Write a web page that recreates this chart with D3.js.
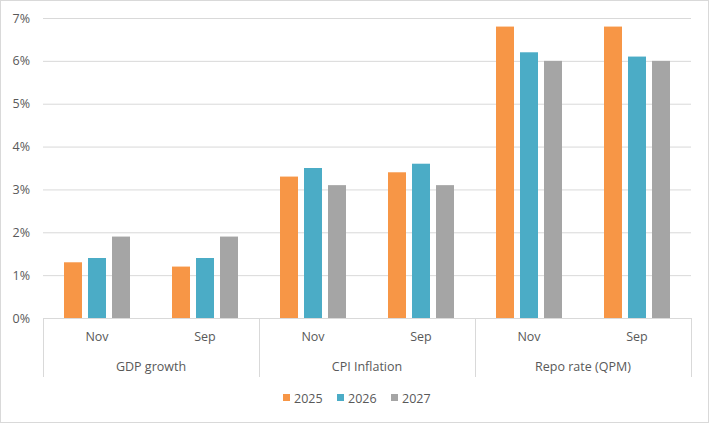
<!DOCTYPE html>
<html>
<head>
<meta charset="utf-8">
<script src="https://cdn.jsdelivr.net/npm/d3@7"></script>
<style>
  body { margin: 0; background: #fff; }
  text { font-family: "Open Sans", "Noto Sans", sans-serif; fill: #595959; }
</style>
</head>
<body>
<div id="chart"></div>
<script>
const groups = ["GDP growth", "CPI Inflation", "Repo rate (QPM)"];
const months = ["Nov", "Sep"];
const years = ["2025", "2026", "2027"];
const yTicks = [0, 1, 2, 3, 4, 5, 6, 7];

// values per year, order: GDP Nov, GDP Sep, CPI Nov, CPI Sep, Repo Nov, Repo Sep
const values2025 = [1.3, 1.2, 3.3, 3.4, 6.8, 6.8];
const values2026 = [1.4, 1.4, 3.5, 3.6, 6.2, 6.1];
const values2027 = [1.9, 1.9, 3.1, 3.1, 6.0, 6.0];

const colors = ["#F79646", "#4BACC6", "#A5A5A5"];

const W = 709, H = 423;
const margin = { left: 43, right: 18, top: 18, bottom: 105 };
const width = W - margin.left - margin.right;
const height = H - margin.top - margin.bottom;

const cats = [];
groups.forEach((g) => months.forEach((m) => cats.push(g + "|" + m)));

const rows = cats.map((c, i) => ({
  cat: c,
  vals: [values2025[i], values2026[i], values2027[i]],
}));

const svg = d3
  .select("#chart")
  .append("svg")
  .attr("width", W)
  .attr("height", H);

svg
  .append("rect")
  .attr("x", 0.5)
  .attr("y", 0.5)
  .attr("width", W - 1)
  .attr("height", H - 1)
  .attr("fill", "#fff")
  .attr("stroke", "#d9d9d9");

const g = svg
  .append("g")
  .attr("transform", "translate(" + margin.left + "," + margin.top + ")");

const xScale = d3.scaleBand().domain(cats).range([0, width]);
const xInner = d3
  .scaleBand()
  .domain(years)
  .range([xScale.bandwidth() / 2 - 33, xScale.bandwidth() / 2 + 33])
  .paddingInner(0.25);
const yScale = d3.scaleLinear().domain([0, 7]).range([height, 0]);

// gridlines
g.append("g")
  .selectAll("line")
  .data(yTicks)
  .enter()
  .append("line")
  .attr("x1", 0)
  .attr("x2", width)
  .attr("y1", (d) => yScale(d) + 0.5)
  .attr("y2", (d) => yScale(d) + 0.5)
  .attr("stroke", "#d9d9d9");

// y axis labels
const yAxis = d3
  .axisLeft(yScale)
  .tickValues(yTicks)
  .tickFormat((d) => d + "%")
  .tickSize(0)
  .tickPadding(13);
g.append("g")
  .attr("class", "myYaxis")
  .call(yAxis)
  .call((a) => a.select(".domain").remove())
  .selectAll("text")
  .attr("font-size", 12.5)
  .style("fill", "#595959");

// bars
g.append("g")
  .selectAll("g")
  .data(rows)
  .enter()
  .append("g")
  .attr("transform", (d) => "translate(" + xScale(d.cat) + ",0)")
  .selectAll("rect")
  .data((d) => d.vals.map((v, i) => ({ year: years[i], v: v, i: i })))
  .enter()
  .append("rect")
  .attr("x", (d) => xInner(d.year))
  .attr("width", xInner.bandwidth())
  .attr("y", (d) => yScale(d.v))
  .attr("height", (d) => height - yScale(d.v))
  .attr("fill", (d) => colors[d.i]);

// category axis
const axisG = g.append("g").attr("transform", "translate(0," + height + ")");
axisG
  .append("line")
  .attr("x1", 0)
  .attr("x2", width)
  .attr("y1", 0.5)
  .attr("y2", 0.5)
  .attr("stroke", "#d9d9d9");

const groupW = xScale.bandwidth() * months.length;
d3.range(groups.length + 1).forEach((i) => {
  axisG
    .append("line")
    .attr("x1", i * groupW + 0.5)
    .attr("x2", i * groupW + 0.5)
    .attr("y1", 0)
    .attr("y2", 59)
    .attr("stroke", "#d9d9d9");
});

axisG
  .selectAll(".inner")
  .data(cats)
  .enter()
  .append("text")
  .attr("class", "inner")
  .attr("x", (d) => xScale(d) + xScale.bandwidth() / 2)
  .attr("y", 23)
  .attr("text-anchor", "middle")
  .attr("font-size", 12.5)
  .text((d) => d.split("|")[1]);

axisG
  .selectAll(".outer")
  .data(groups)
  .enter()
  .append("text")
  .attr("class", "outer")
  .attr("x", (d, i) => i * groupW + groupW / 2)
  .attr("y", 53)
  .attr("text-anchor", "middle")
  .attr("font-size", 12.5)
  .text((d) => d);

// legend
const legend = svg.append("g").attr("transform", "translate(283,398)");
const legItems = legend
  .selectAll("g")
  .data(years)
  .enter()
  .append("g")
  .attr("transform", (d, i) => "translate(" + i * 54 + ",0)");
legItems
  .append("rect")
  .attr("x", 0)
  .attr("y", -4)
  .attr("width", 7)
  .attr("height", 7)
  .attr("fill", (d, i) => colors[i]);
legItems
  .append("text")
  .attr("x", 11)
  .attr("y", 4.5)
  .attr("font-size", 12.5)
  .text((d) => d);
</script>
</body>
</html>
